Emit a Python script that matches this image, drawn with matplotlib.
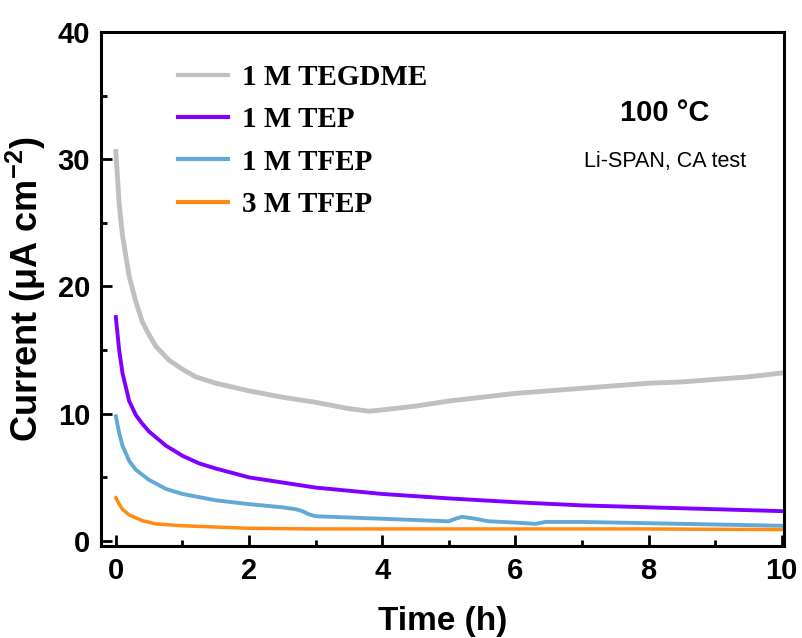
import numpy as np
import matplotlib
matplotlib.use("Agg")
import matplotlib.pyplot as plt
from matplotlib.ticker import MultipleLocator

plt.rcParams['mathtext.fontset'] = 'custom'
plt.rcParams['mathtext.rm'] = 'Liberation Sans:bold'
plt.rcParams['mathtext.bf'] = 'Liberation Sans:bold'
plt.rcParams['mathtext.it'] = 'Liberation Sans:bold:italic'

# chronoamperometry curves, current in uA cm-2 vs time in h
t_tegdme = [0, 0.05, 0.1, 0.2, 0.3, 0.4, 0.5, 0.6, 0.8, 1.0, 1.2, 1.5, 2.0, 2.5, 3.0,
            3.5, 3.8, 4.0, 4.5, 5.0, 5.5, 6.0, 6.5, 7.0, 7.5, 8.0, 8.5, 9.0, 9.5, 10.0]
i_tegdme = [30.6, 26.5, 24.0, 20.8, 18.8, 17.2, 16.2, 15.3, 14.2, 13.5, 12.9, 12.4, 11.8, 11.3, 10.9,
            10.4, 10.2, 10.3, 10.6, 11.0, 11.3, 11.6, 11.8, 12.0, 12.2, 12.4, 12.5, 12.7, 12.9, 13.2]

t_tep = [0, 0.05, 0.1, 0.2, 0.3, 0.4, 0.5, 0.75, 1.0, 1.25, 1.5, 2.0, 2.5, 3.0, 3.5,
         4.0, 5.0, 6.0, 7.0, 8.0, 9.0, 10.0]
i_tep = [17.6, 15.0, 13.2, 11.0, 9.9, 9.2, 8.6, 7.5, 6.7, 6.1, 5.7, 5.0, 4.6, 4.2, 3.95,
         3.7, 3.35, 3.05, 2.8, 2.65, 2.5, 2.35]

t_tfep1 = [0, 0.05, 0.1, 0.2, 0.3, 0.5, 0.75, 1.0, 1.5, 2.0, 2.5, 2.7, 2.8, 2.9, 3.0,
           3.5, 4.0, 4.5, 5.0, 5.1, 5.2, 5.4, 5.6, 6.0, 6.3, 6.45, 7.0, 8.0, 9.0, 10.0]
i_tfep1 = [9.8, 8.5, 7.5, 6.3, 5.6, 4.8, 4.1, 3.7, 3.2, 2.9, 2.65, 2.5, 2.35, 2.1, 1.95,
           1.85, 1.75, 1.65, 1.55, 1.75, 1.9, 1.75, 1.55, 1.45, 1.35, 1.5, 1.5, 1.4, 1.3, 1.2]

t_tfep3 = [0, 0.05, 0.1, 0.2, 0.4, 0.6, 1.0, 1.5, 2.0, 3.0, 4.0, 6.0, 8.0, 10.0]
i_tfep3 = [3.4, 2.9, 2.5, 2.05, 1.6, 1.35, 1.2, 1.1, 1.0, 0.95, 0.95, 0.95, 0.95, 0.9]

labels = ['1 M TEGDME', '1 M TEP', '1 M TFEP', '3 M TFEP']
colors = ['#c0c0c0', '#8000ff', '#63a9d6', '#ff8a14']

fig = plt.figure(figsize=(8.03, 6.38), dpi=100)
ax = fig.add_axes([0.126, 0.144, 0.85, 0.806])

ax.plot(t_tegdme, i_tegdme, color=colors[0], lw=3.5, label=labels[0])
ax.plot(t_tep, i_tep, color=colors[1], lw=2.8, label=labels[1])
ax.plot(t_tfep1, i_tfep1, color=colors[2], lw=2.8, label=labels[2])
ax.plot(t_tfep3, i_tfep3, color=colors[3], lw=2.5, label=labels[3])

ax.set_xlim(-0.22, 10.03)
ax.set_ylim(-0.4, 40)
ax.xaxis.set_major_locator(MultipleLocator(2))
ax.xaxis.set_minor_locator(MultipleLocator(1))
ax.yaxis.set_major_locator(MultipleLocator(10))
ax.yaxis.set_minor_locator(MultipleLocator(5))
ax.tick_params(which='both', direction='in', width=2, top=False, right=False)
ax.tick_params(which='major', length=8, labelsize=21, pad=8)
ax.tick_params(which='minor', length=4)
for lab in ax.get_xticklabels() + ax.get_yticklabels():
    lab.set_fontfamily('Liberation Sans')
    lab.set_fontweight('bold')
for sp in ax.spines.values():
    sp.set_linewidth(2.2)

ax.set_xlabel('Time (h)', fontsize=24, fontweight='bold', family='Liberation Sans', labelpad=15)
ax.set_ylabel('Current (μA cm$^{-2}$)', fontsize=26, fontweight='bold',
              family='Liberation Sans', labelpad=7)

leg = ax.legend(loc='upper left', bbox_to_anchor=(0.074, 0.988), frameon=False,
                prop={'family': 'Liberation Serif', 'weight': 'bold', 'size': 21},
                handlelength=1.7, handletextpad=0.5, labelspacing=0.52)
for h in leg.get_lines():
    h.set_linewidth(3)

ax.text(0.826, 0.842, '100 °C', transform=ax.transAxes, ha='center', va='center',
        fontsize=21, fontweight='bold', family='Liberation Sans')
ax.text(0.826, 0.747, 'Li-SPAN, CA test', transform=ax.transAxes, ha='center', va='center',
        fontsize=15.5, family='Liberation Sans')

fig.savefig('out.png', dpi=100)
